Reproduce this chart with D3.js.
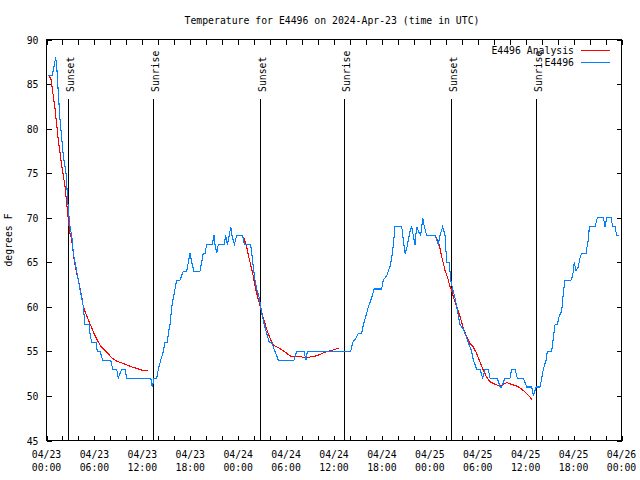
<!DOCTYPE html>
<html>
<head>
<meta charset="utf-8">
<script src="https://cdn.jsdelivr.net/npm/d3@7"></script>
<style>
html,body{margin:0;padding:0;background:#fff;}
svg{display:block;}
text{font-family:"DejaVu Sans Mono",monospace;font-size:9.8px;fill:#000;}
</style>
</head>
<body>
<svg id="chart" width="640" height="480"></svg>
<script>
// ---- data (hours since 2024-04-23 00:00 UTC, temperature in F) ----
const titleText = "Temperature for E4496 on 2024-Apr-23 (time in UTC)";
const yLabel = "degrees F";
const seriesNames = ["E4496 Analysis", "E4496"];
const yTicks = [45, 50, 55, 60, 65, 70, 75, 80, 85, 90];

const obsHours = [
  0.19,0.73,1.15,1.28,1.48,1.69,1.90,2.10,2.44,2.73,
  2.94,3.16,3.36,3.57,3.78,3.98,4.19,4.41,4.61,4.82,
  5.36,5.45,5.66,6.20,6.36,6.70,7.04,8.04,8.29,8.79,
  8.99,9.42,9.83,10.04,13.05,13.25,13.46,13.80,14.00,14.30,
  14.63,14.84,15.13,15.25,15.46,15.68,15.88,16.09,16.30,16.72,
  17.13,17.56,17.76,17.97,18.18,18.47,19.22,19.43,19.63,19.85,
  20.06,20.56,20.76,20.97,21.10,21.31,21.51,22.26,22.44,22.64,
  22.89,23.07,23.23,23.52,23.82,24.23,24.57,24.77,25.57,25.70,
  25.90,26.11,26.32,26.65,26.82,27.02,27.27,27.57,27.90,28.20,
  28.40,28.61,28.83,29.03,30.99,31.33,32.24,32.50,32.66,38.09,
  38.34,38.76,39.04,39.47,39.67,40.01,40.30,40.72,41.01,41.97,
  42.17,42.60,42.80,43.01,43.23,43.43,43.64,44.48,44.68,44.89,
  45.10,45.31,45.52,45.73,45.93,46.14,46.36,46.56,46.86,47.11,
  47.31,47.61,48.65,48.86,49.06,49.27,49.61,49.90,50.11,50.44,
  50.61,50.86,51.15,51.37,51.57,51.78,52.19,52.41,52.62,52.82,
  53.03,53.24,53.44,53.66,53.87,54.28,54.62,54.91,55.32,55.54,
  56.45,56.79,57.00,57.41,58.04,58.25,58.67,58.95,59.71,60.13,
  60.76,60.96,61.30,61.80,62.01,62.21,62.55,62.71,63.26,63.46,
  63.68,63.96,64.21,64.51,64.71,64.93,65.68,65.89,66.09,66.31,
  66.59,66.81,67.02,67.56,67.64,67.85,67.97,68.69,68.97,69.73,
  69.94,70.15,70.69,70.90,71.19,71.40,71.69
];
const obsTemps = [
  86,86,88,87,84,81,79,77,75,71,
  69,68,66,65,64,63,62,61,60,58,
  58,57,56,56,55,55,54,54,53,53,
  52,53,53,52,52,51,52,52,53,54,
  55,56,56,57,58,60,61,62,63,63,
  64,64,65,66,65,64,64,65,66,66,
  67,67,67,68,67,66,67,67,68,67,
  68,69,68,67,68,68,68,67,67,66,
  64.5,63,62,61,60,59,58,57,56,56,
  55.5,55,54.5,54,54,55,55,54,55,55,
  56,56.5,57,57,58,59,60,61,62,62,
  63,63.5,64,64.5,65.5,67,69,69,67.5,66,
  66.5,67.5,68.5,69,68,67,69,68.5,68,70,
  69,68,68,67.5,67,68,69,68,65,65,
  63,62,61,60,59,58,57.5,57,56.5,56,
  55.5,55,54,53.5,53,53,52,53,53,52,
  52,51,51,52,52,53,53,52,52,51,
  51,50,51,51,52,53,54,55,55,56.5,
  58,58,59,59.5,61.5,63,63,63.5,65,64,
  64.5,65.5,66,66,66.5,67.5,69,69,70,70,
  69,70,70,69,69,68,68
];

const ana1Hours = [0.23,0.55,1.06,1.48,1.90,2.32,2.53,2.73,2.94,3.16,
  3.36,3.57,3.78,3.98,4.19,4.41,4.61,5.03,5.45,5.86,
  6.29,6.70,7.11,7.54,8.16,8.79,9.42,10.04,10.67,11.30,11.92,12.75];
const ana1Temps = [86,85.6,82.3,78.7,75.9,73.5,71.6,69.75,68.25,67.5,
  66,64.7,63.75,63,62.1,61.1,60,59,58.1,57.2,
  56.4,55.7,55.3,54.9,54.3,53.9,53.7,53.5,53.25,53.1,52.9,52.8];
const ana2Hours = [24.73,25.07,25.27,25.57,25.82,26.11,26.32,26.65,26.95,27.15,
  27.49,27.77,28.08,28.40,28.83,29.45,30.08,30.49,30.91,31.74,
  32.58,33.21,33.84,34.46,35.09,35.71,36.34,36.67];
const ana2Temps = [67.7,66.75,65.8,64.7,63.75,62.4,61.5,60.4,59.4,58.7,
  57.75,57,56.25,55.7,55.5,55.2,54.8,54.5,54.4,54.4,
  54.3,54.4,54.5,54.75,55,55.1,55.3,55.4];
const ana3Hours = [48.77,49.06,49.27,49.49,49.69,49.90,50.11,50.31,50.52,50.74,
  50.94,51.37,51.78,52.19,52.62,53.03,53.44,53.87,54.28,54.70,
  55.12,55.54,56.16,56.79,57.20,57.63,58.25,58.88,59.29,59.71,
  60.13,60.54,60.76];
const ana3Temps = [67.8,67.3,66.6,65.6,64.9,64.1,63.6,63,62.3,61.9,
  61.1,60,58.9,57.6,56.6,55.9,55.5,54.75,53.8,52.9,
  52.1,51.6,51.3,51.1,51.3,51.5,51.3,51.1,50.9,50.6,
  50.25,49.9,49.6];

const eventHours = [2.73, 13.37, 26.77, 37.29, 50.65, 61.33];
const eventNames = ["Sunset", "Sunrise", "Sunset", "Sunrise", "Sunset", "Sunrise"];

// ---- layout ----
const startMs = Date.UTC(2024, 3, 23);
const toDate = h => new Date(startMs + h * 3600e3);
const L = 46.5, R = 621.5, T = 39.5, B = 440.5;
const svg = d3.select("#chart");

const x = d3.scaleUtc().domain([toDate(0), toDate(72)]).range([L, R]);
const y = d3.scaleLinear().domain([45, 90]).range([B, T]);

const g = svg.append("g").attr("shape-rendering", "crispEdges");

const majorTicks = x.ticks(d3.utcHour.every(6));
const minorTicks = x.ticks(d3.utcHour.every(2));

const styleAxis = sel => {
  sel.select(".domain").remove();
  sel.selectAll(".tick line").attr("stroke", "#000");
  sel.attr("font-family", null).attr("font-size", null);
};

g.append("g").attr("transform", `translate(0,${B})`)
  .call(d3.axisBottom(x).tickValues(minorTicks).tickSizeInner(-5).tickSizeOuter(0).tickFormat(""))
  .call(styleAxis);
g.append("g").attr("transform", `translate(0,${T})`)
  .call(d3.axisTop(x).tickValues(minorTicks).tickSizeInner(-5).tickSizeOuter(0).tickFormat(""))
  .call(styleAxis);
g.append("g").attr("transform", `translate(${L},0)`)
  .call(d3.axisLeft(y).tickValues(yTicks).tickSizeInner(-5).tickSizeOuter(0).tickPadding(8).tickFormat(d3.format("d")))
  .call(styleAxis)
  .call(s => s.selectAll("text").attr("dy", null).attr("y", 3.5));
g.append("g").attr("transform", `translate(${R},0)`)
  .call(d3.axisRight(y).tickValues(yTicks).tickSizeInner(-5).tickSizeOuter(0).tickFormat(""))
  .call(styleAxis);

// x tick labels (two lines)
const fmtDate = d3.utcFormat("%m/%d"), fmtTime = d3.utcFormat("%H:%M");
const xl = svg.append("g");
majorTicks.forEach(t => {
  xl.append("text").attr("x", x(t)).attr("y", 458).attr("text-anchor", "middle").text(fmtDate(t));
  xl.append("text").attr("x", x(t)).attr("y", 471).attr("text-anchor", "middle").text(fmtTime(t));
});

// frame
g.append("rect").attr("x", L).attr("y", T).attr("width", R - L).attr("height", B - T)
  .attr("fill", "none").attr("stroke", "#000");

// sunrise / sunset lines
eventHours.forEach((h, i) => {
  const xx = Math.round(x(toDate(h))) + 0.5;
  g.append("line").attr("x1", xx).attr("x2", xx).attr("y1", 99).attr("y2", B)
    .attr("stroke", "#000").attr("stroke-width", 1);
  svg.append("text").attr("transform", `translate(${xx + 5},92) rotate(-90)`)
    .attr("text-anchor", "start").text(eventNames[i]);
});

// series
const line = d3.line().x(d => x(toDate(d[0]))).y(d => y(d[1]));
const zipped = (hs, ts) => hs.map((h, i) => [h, ts[i]]);
const dataG = svg.append("g").attr("fill", "none").attr("stroke-width", 1.1)
  .attr("shape-rendering", "crispEdges");
[[ana1Hours, ana1Temps], [ana2Hours, ana2Temps], [ana3Hours, ana3Temps]].forEach(([hs, ts]) => {
  dataG.append("path").datum(zipped(hs, ts)).attr("d", line).attr("stroke", "#ff0000");
});
dataG.append("path").datum(zipped(obsHours, obsTemps)).attr("d", line).attr("stroke", "#0080ff");

// title and y label
svg.append("text").attr("x", 332).attr("y", 24).attr("text-anchor", "middle").text(titleText);
svg.append("text").attr("transform", "translate(12,240) rotate(-90)").attr("text-anchor", "middle").text(yLabel);

// legend
const legColors = ["#ff0000", "#0080ff"];
seriesNames.forEach((n, i) => {
  const ly = 53.5 + i * 12.7;
  svg.append("text").attr("x", 574).attr("y", ly).attr("text-anchor", "end").text(n);
  svg.append("line").attr("x1", 581).attr("x2", 610).attr("y1", Math.round(ly - 4) + 0.5).attr("y2", Math.round(ly - 4) + 0.5)
    .attr("stroke", legColors[i]).attr("stroke-width", 1).attr("shape-rendering", "crispEdges");
});
</script>
</body>
</html>
